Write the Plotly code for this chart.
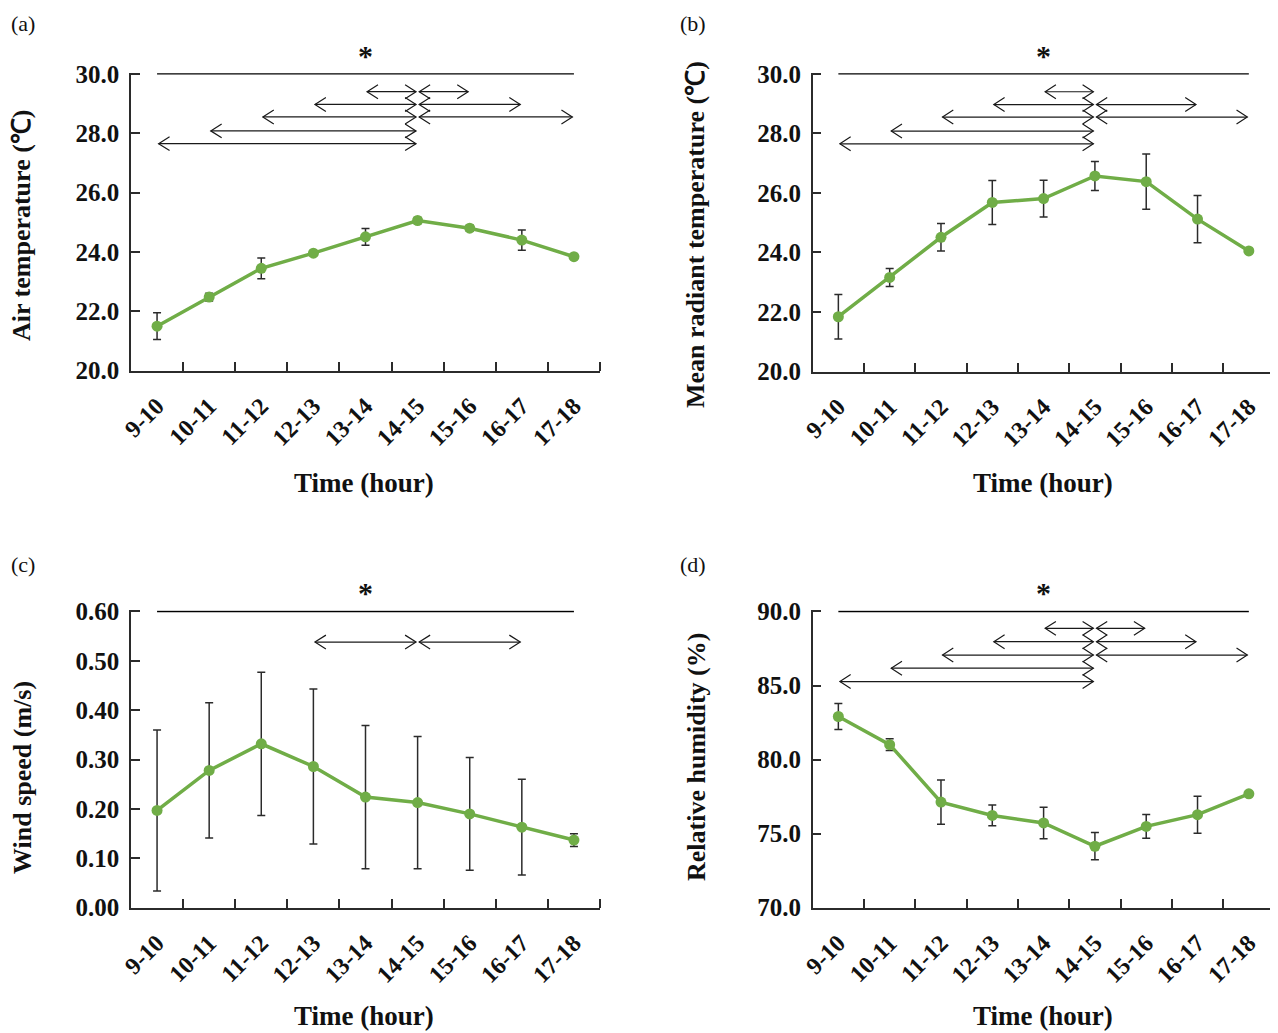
import plotly.graph_objects as go

# ---------------- data ----------------
categories = ["9-10", "10-11", "11-12", "12-13", "13-14", "14-15", "15-16", "16-17", "17-18"]

air_temp = [21.50, 22.48, 23.45, 23.96, 24.51, 25.06, 24.80, 24.40, 23.84]
air_temp_err = [0.45, 0.13, 0.35, 0.08, 0.28, 0.10, 0.10, 0.34, 0.05]

mrt = [21.84, 23.16, 24.51, 25.68, 25.81, 26.57, 26.38, 25.12, 24.05]
mrt_err = [0.75, 0.30, 0.46, 0.74, 0.62, 0.49, 0.93, 0.79, 0.05]

wind = [0.197, 0.278, 0.332, 0.286, 0.224, 0.213, 0.190, 0.163, 0.137]
wind_err = [0.163, 0.137, 0.145, 0.157, 0.145, 0.134, 0.114, 0.097, 0.013]

rh = [82.91, 81.01, 77.13, 76.23, 75.72, 74.15, 75.49, 76.28, 77.69]
rh_err = [0.88, 0.40, 1.50, 0.70, 1.07, 0.92, 0.80, 1.25, 0.10]

# significance comparisons: (from index, to index, level)
sig_a = [(4, 5, 29.40), (5, 6, 29.40), (3, 5, 28.97), (5, 7, 28.97),
         (2, 5, 28.55), (5, 8, 28.55), (1, 5, 28.08), (0, 5, 27.65)]
sig_b = [(4, 5, 29.40), (3, 5, 28.97), (5, 7, 28.97),
         (2, 5, 28.55), (5, 8, 28.55), (1, 5, 28.08), (0, 5, 27.65)]
sig_c = [(3, 5, 0.538), (5, 7, 0.538)]
sig_d = [(4, 5, 88.86), (5, 6, 88.86), (3, 5, 87.96), (5, 7, 87.96),
         (2, 5, 87.06), (5, 8, 87.06), (1, 5, 86.17), (0, 5, 85.27)]

y_titles = ["Air temperature (\u2103)", "Mean radiant temperature (\u2103)",
            "Wind speed (m/s)", "Relative humidity (%)"]
panel_letters = ["(a)", "(b)", "(c)", "(d)"]
x_title = "Time (hour)"

y_ranges = [(20.0, 30.0), (20.0, 30.0), (0.0, 0.60), (70.0, 90.0)]
y_ticks = [[20, 22, 24, 26, 28, 30], [20, 22, 24, 26, 28, 30],
           [0, 0.1, 0.2, 0.3, 0.4, 0.5, 0.6], [70, 75, 80, 85, 90]]
y_formats = [".1f", ".1f", ".2f", ".1f"]

# ---------------- layout geometry (pixels, page coordinates) ----------------
OFF = 8                       # default page body margin
W, H = 1278 - OFF, 1033 - OFF
GREEN = "#70AD47"
AX = "#2b2b2b"
FONT = "Liberation Serif"

panels = [
    dict(x0=131, x1=600, y0=72.7, y1=370.7, ytx=22, yty=225, xtx=364, xty=483, lx=9, ly=9),
    dict(x0=812.7, x1=1274.5, y0=72.7, y1=371.5, ytx=696, yty=235, xtx=1043, xty=483, lx=678, ly=9),
    dict(x0=131, x1=600, y0=610.3, y1=907.7, ytx=22, yty=778, xtx=364, xty=1016, lx=9, ly=550),
    dict(x0=812.7, x1=1274.5, y0=610.3, y1=907.7, ytx=696, yty=757, xtx=1043, xty=1016, lx=678, ly=550),
]


def px(v):
    return (v - OFF) / W


def py(v):
    return 1 - (v - OFF) / H


series = [(air_temp, air_temp_err), (mrt, mrt_err), (wind, wind_err), (rh, rh_err)]
sigs = [sig_a, sig_b, sig_c, sig_d]

fig = go.Figure()
xs = list(range(len(categories)))
annotations = []
layout = {}

for k in range(4):
    p = panels[k]
    sfx = "" if k == 0 else str(k + 1)
    xa, ya = "x" + sfx, "y" + sfx
    lo, hi = y_ranges[k]
    span = hi - lo
    pad = span * 0.004
    ph = p["y1"] - p["y0"]
    dy = span * 7.0 / ph      # chevron half height in data units
    dx = 0.21                 # chevron length in category units

    vals, errs = series[k]
    fig.add_trace(go.Scatter(
        x=xs, y=vals, xaxis=xa, yaxis=ya, mode="lines+markers",
        line=dict(color=GREEN, width=3.5),
        marker=dict(color=GREEN, size=11),
        error_y=dict(type="data", array=errs, color=AX, thickness=1.5, width=4),
        showlegend=False, hoverinfo="skip"))

    # overall significance line at top
    fig.add_trace(go.Scatter(
        x=[xs[0], xs[-1]], y=[hi, hi], xaxis=xa, yaxis=ya, mode="lines",
        line=dict(color="black", width=1.4), showlegend=False, hoverinfo="skip",
        cliponaxis=False))

    # pairwise double-headed arrows
    ax_, ay_ = [], []
    for (i, j, lvl) in sigs[k]:
        a, b = xs[i] + 0.03, xs[j] - 0.03
        ax_ += [a + dx, a, a + dx, None, a, b, None, b - dx, b, b - dx, None]
        ay_ += [lvl + dy, lvl, lvl - dy, None, lvl, lvl, None, lvl + dy, lvl, lvl - dy, None]
    fig.add_trace(go.Scatter(
        x=ax_, y=ay_, xaxis=xa, yaxis=ya, mode="lines",
        line=dict(color="#1a1a1a", width=1.2), showlegend=False, hoverinfo="skip"))

    layout["xaxis" + sfx] = dict(
        domain=[px(p["x0"]), px(p["x1"])], anchor=ya,
        range=[-0.5, len(categories) - 0.5],
        tickmode="array", tickvals=xs, ticktext=categories, tickangle=-45,
        ticks="", showline=True, linecolor=AX, linewidth=1.5,
        showgrid=False, zeroline=False,
        tickfont=dict(family=FONT, size=24, color="#111", weight="bold"),
        ticklabelstandoff=10,
        minor=dict(tickmode="array", tickvals=[v + 0.5 for v in xs], ticks="inside",
                   ticklen=9, tickcolor=AX, tickwidth=1.5, showgrid=False),
        automargin=False, fixedrange=True)
    layout["yaxis" + sfx] = dict(
        domain=[py(p["y1"]), py(p["y0"])], anchor=xa,
        range=[lo, hi + pad], tickmode="array", tickvals=y_ticks[k],
        tickformat=y_formats[k], ticks="inside", ticklen=9, tickcolor=AX, tickwidth=1.5,
        showline=True, linecolor=AX, linewidth=1.5, showgrid=False, zeroline=False,
        tickfont=dict(family=FONT, size=25, color="#111", weight="bold"),
        ticklabelstandoff=5, automargin=False, fixedrange=True)

    # asterisk
    annotations.append(dict(
        x=(xs[0] + xs[-1]) / 2, y=hi, xref=xa, yref=ya, text="*", showarrow=False,
        xanchor="center", yanchor="bottom", yshift=0,
        font=dict(family=FONT, size=30, color="#111", weight="bold")))
    # y title
    annotations.append(dict(
        x=px(p["ytx"]), y=py(p["yty"]), xref="paper", yref="paper",
        text=y_titles[k], textangle=-90, showarrow=False,
        xanchor="center", yanchor="middle",
        font=dict(family=FONT, size=26, color="#111", weight="bold")))
    # x title
    annotations.append(dict(
        x=px(p["xtx"]), y=py(p["xty"]), xref="paper", yref="paper",
        text=x_title, showarrow=False, xanchor="center", yanchor="middle",
        font=dict(family=FONT, size=27, color="#111", weight="bold")))
    # panel letter
    annotations.append(dict(
        x=px(p["lx"]), y=py(p["ly"]), xref="paper", yref="paper",
        text=panel_letters[k], showarrow=False, xanchor="left", yanchor="top",
        font=dict(family=FONT, size=22, color="#111")))

fig.update_layout(
    width=W, height=H, margin=dict(l=0, r=0, t=0, b=0),
    paper_bgcolor="white", plot_bgcolor="white",
    annotations=annotations, **layout)

fig.write_html("out.html")
